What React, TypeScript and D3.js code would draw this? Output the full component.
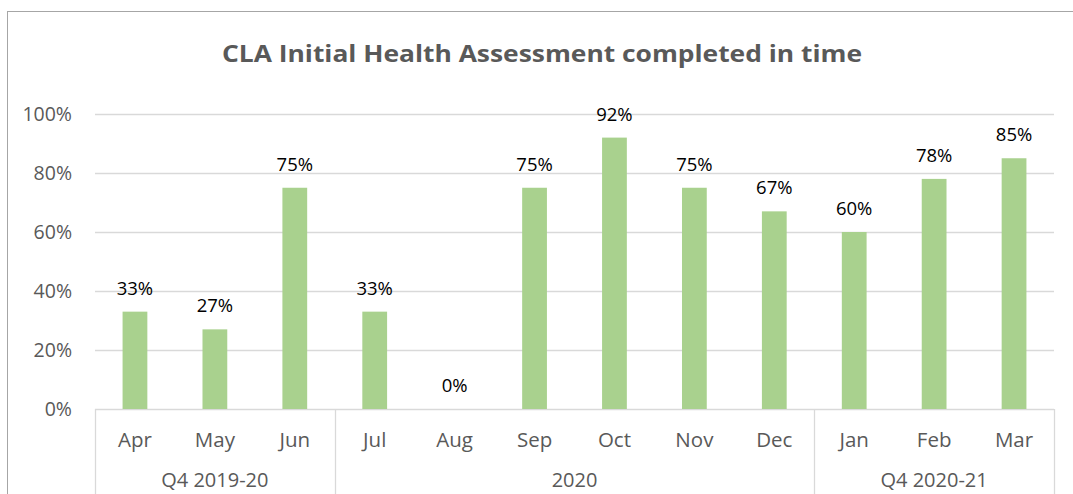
import React, { useEffect, useRef } from 'react';
import * as d3 from 'd3';

const months = ['Apr', 'May', 'Jun', 'Jul', 'Aug', 'Sep', 'Oct', 'Nov', 'Dec', 'Jan', 'Feb', 'Mar'];
const values = [33, 27, 75, 33, 0, 75, 92, 75, 67, 60, 78, 85];
const groups = ['Q4 2019-20', '2020', 'Q4 2020-21'];
const groupSpans = [3, 6, 3];
const yTicks = [0, 20, 40, 60, 80, 100];

const FONT = "'Open Sans', 'Noto Sans', sans-serif";

const App: React.FC = () => {
  const svgRef = useRef<SVGSVGElement | null>(null);

  useEffect(() => {
    if (!svgRef.current) return;
    const svg = d3.select(svgRef.current);
    svg.selectAll('*').remove();

    const width = 1073;
    const height = 494;
    const margin = { top: 114, right: 19, bottom: 85, left: 95 };

    // outer chart border (runs past the right/bottom of the shot)
    svg.append('rect')
      .attr('x', 7.5).attr('y', 11.5)
      .attr('width', width + 20).attr('height', height + 20)
      .attr('fill', 'white').attr('stroke', '#a6a6a6').attr('stroke-width', 1);

    svg.append('text')
      .attr('x', 542).attr('y', 62)
      .attr('text-anchor', 'middle')
      .style('font', `bold 24px ${FONT}`)
      .attr('fill', '#595959')
      .attr('textLength', 640)
      .attr('lengthAdjust', 'spacingAndGlyphs')
      .text('CLA Initial Health Assessment completed in time');

    const x = d3.scaleBand<string>()
      .domain(months)
      .range([margin.left, width - margin.right])
      .paddingInner(0.69)
      .paddingOuter(0.345);

    const xCell = d3.scaleBand<string>()
      .domain(months)
      .range([margin.left, width - margin.right]);

    const y = d3.scaleLinear()
      .domain([0, 100])
      .range([height - margin.bottom, margin.top]);

    // gridlines
    svg.append('g')
      .selectAll('line')
      .data(yTicks)
      .join('line')
      .attr('x1', margin.left).attr('x2', width - margin.right)
      .attr('y1', d => Math.round(y(d)) + 0.5).attr('y2', d => Math.round(y(d)) + 0.5)
      .attr('stroke', '#d9d9d9').attr('stroke-width', 1.3);

    svg.append('g')
      .selectAll('text')
      .data(yTicks)
      .join('text')
      .attr('x', 72).attr('y', d => y(d) + 7)
      .attr('text-anchor', 'end')
      .style('font', `19.5px ${FONT}`)
      .attr('fill', '#595959')
      .text(d => `${d}%`);

    // bars
    svg.append('g')
      .selectAll('rect')
      .data(values)
      .join('rect')
      .attr('x', (d, i) => x(months[i]) as number)
      .attr('width', x.bandwidth())
      .attr('y', d => y(d))
      .attr('height', d => y(0) - y(d))
      .attr('fill', '#a9d18e');

    // data labels
    svg.append('g')
      .selectAll('text')
      .data(values)
      .join('text')
      .attr('x', (d, i) => (x(months[i]) as number) + x.bandwidth() / 2)
      .attr('y', d => y(d) - 17)
      .attr('text-anchor', 'middle')
      .style('font', `18.5px ${FONT}`)
      .attr('fill', '#000')
      .text(d => `${d}%`);

    // month labels
    svg.append('g')
      .selectAll('text')
      .data(months)
      .join('text')
      .attr('x', d => (xCell(d) as number) + xCell.bandwidth() / 2)
      .attr('y', 447)
      .attr('text-anchor', 'middle')
      .style('font', `20.5px ${FONT}`)
      .attr('fill', '#595959')
      .text(d => d);

    // grouped category axis
    const bounds: number[] = [0];
    groupSpans.forEach(s => bounds.push(bounds[bounds.length - 1] + s));
    const edge = (i: number) => (i < months.length ? (xCell(months[i]) as number) : width - margin.right);

    svg.append('g')
      .selectAll('line')
      .data(bounds)
      .join('line')
      .attr('x1', d => Math.round(edge(d)) + 0.5).attr('x2', d => Math.round(edge(d)) + 0.5)
      .attr('y1', y(0)).attr('y2', height + 10)
      .attr('stroke', '#d9d9d9').attr('stroke-width', 1.3);

    svg.append('g')
      .selectAll('text')
      .data(groups)
      .join('text')
      .attr('x', (d, i) => (edge(bounds[i]) + edge(bounds[i + 1])) / 2)
      .attr('y', 487)
      .attr('text-anchor', 'middle')
      .style('font', `20px ${FONT}`)
      .attr('fill', '#595959')
      .text(d => d);
  }, []);

  return (
    <svg
      ref={svgRef}
      width={1073}
      height={494}
      style={{ position: 'absolute', left: 0, top: 0, display: 'block', background: 'white' }}
    ></svg>
  );
};

export default App;
